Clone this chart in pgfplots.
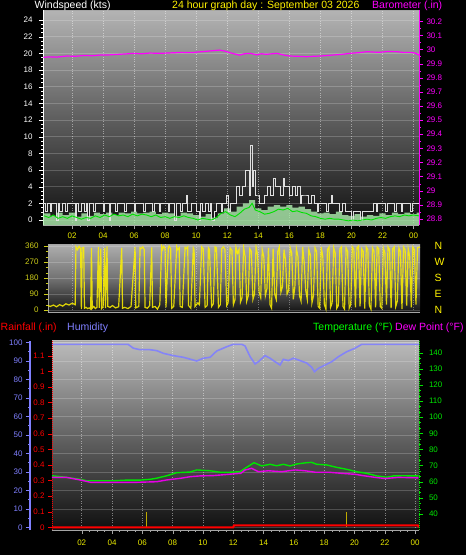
\documentclass[border=0pt]{standalone}
\usepackage{fontspec}
\setmainfont{Liberation Sans}
\usepackage{pgfplots}
\pgfplotsset{compat=1.18}
\definecolor{tyel}{RGB}{235,235,0}
\definecolor{dirlab}{RGB}{205,205,25}
\definecolor{hum}{RGB}{128,128,255}
\definecolor{tgreen}{RGB}{0,230,0}
\definecolor{dmag}{RGB}{230,0,230}
\definecolor{bmag}{RGB}{255,0,255}
\definecolor{rbar}{RGB}{190,170,0}
\definecolor{lgreen}{RGB}{175,240,175}
\definecolor{wgreen}{RGB}{0,225,0}
\definecolor{axgray}{RGB}{165,165,165}
\definecolor{gA}{RGB}{180,180,180}
\definecolor{gB}{RGB}{95,95,95}
\definecolor{gC}{RGB}{18,18,18}
\definecolor{dA}{RGB}{175,175,175}
\definecolor{dB}{RGB}{115,115,115}
\definecolor{dC}{RGB}{20,20,20}
\definecolor{hA}{RGB}{188,188,188}
\definecolor{hB}{RGB}{100,100,100}
\definecolor{hC}{RGB}{15,15,15}
\newcommand{\tk}{\fontsize{8}{9}\selectfont}
\newcommand{\ttl}{\fontsize{10.5}{12}\selectfont}
\pgfplotsset{
  every axis/.append style={/pgf/number format/assume math mode=true, scale only axis, anchor=south west,
    tick align=outside, major tick length=4pt, minor tick length=2pt, ticklabel style={font=\tk}},
}
\begin{document}
\begin{tikzpicture}
\fill[black] (0,0) rectangle (466pt,-555pt);
\shade[top color=gA, bottom color=gC, middle color=gB] (43pt,-10pt) rectangle (419pt,-225pt);
\shade[top color=dA, bottom color=dC, middle color=dB] (48pt,-244pt) rectangle (420pt,-312pt);
\shade[top color=hA, bottom color=hC, middle color=hB] (52pt,-340.7pt) rectangle (419pt,-530pt);
\draw[axgray] (43pt,-10pt) -- (419pt,-10pt);
\draw[axgray] (48pt,-244pt) -- (420pt,-244pt);
\draw[axgray] (52pt,-340.7pt) -- (419pt,-340.7pt);

% ---------- Panel 1: wind ----------
\begin{axis}[at={(43pt,-225pt)}, width=376pt, height=215pt,
  xmin=0.13, xmax=24.35, ymin=-0.6, ymax=25.2,
  axis x line*=bottom, axis y line*=left,
  x axis line style={-, axgray}, y axis line style={-, white},
  xtick={2,4,...,24}, xticklabels={02,04,06,08,10,12,14,16,18,20,22,00},
  minor x tick num=3,
  ytick={0,2,...,24}, minor y tick num=3,
  xticklabel style={text=tyel},
  yticklabel style={text=white, xshift=-3pt},
  xtick style={axgray}, ytick style={white},
  xmajorgrids, ymajorgrids,
  x grid style={white, opacity=0.45, dotted},
  y grid style={white, opacity=0.2},
]
\addplot[const plot, fill=lgreen, fill opacity=0.8, draw=none] coordinates {
(0.13,-0.6) (0.13,0.8) (0.6,0.5) (1.0,0.9) (1.4,0.6) (1.8,0.9) (2.2,0.4) (2.6,0.8) (3.0,0.5) (3.4,0.9) (3.8,0.7)
(4.2,0.9) (4.6,0.6) (5.0,0.9) (5.4,0.8) (5.8,1.0) (6.2,0.8) (6.6,0.9) (7.0,1.0) (7.4,0.7) (7.8,0.9)
(8.2,0.8) (8.6,0.5) (9.0,0.9) (9.4,0.8) (9.8,0.6) (10.2,0.4) (10.6,0.7) (11.0,0.3) (11.4,0.8) (11.8,1.4)
(12.2,1.0) (12.6,1.6) (13.0,2.0) (13.4,2.4) (13.8,1.4) (14.2,1.2) (14.6,1.6) (15.0,1.8) (15.4,1.6) (15.8,1.8)
(16.2,1.5) (16.6,1.6) (17.0,1.3) (17.4,1.0) (17.8,0.8) (18.2,0.9) (18.6,0.7) (19.0,1.0) (19.4,0.6) (19.8,0.5)
(20.2,0.7) (20.6,0.4) (21.0,0.6) (21.4,0.5) (21.8,0.8) (22.2,0.6) (22.6,0.9) (23.0,0.7) (23.4,0.9) (23.8,0.7)
(24.2,0.9) (24.35,0.9) (24.35,-0.6)};
\addplot[const plot, white!88!black, line width=0.9pt] coordinates {
(0.13,2) (0.3,1) (0.4,2) (0.6,1) (0.7,2) (0.8,2) (1.0,0) (1.1,2) (1.2,1) (1.4,2) (1.6,1) (1.7,2) (1.8,2) (2.0,2)
(2.2,0) (2.3,2) (2.4,1) (2.6,2) (2.8,1) (2.9,2)
(3.0,0) (3.1,2) (3.2,2) (3.4,1) (3.5,2) (3.6,2) (3.8,2) (4.0,1) (4.1,2) (4.2,2) (4.4,0) (4.5,2) (4.6,2) (4.8,1)
(4.9,2) (5.0,2) (5.2,2) (5.4,1) (5.5,2) (5.6,2) (5.8,2) (6.0,1) (6.1,2) (6.2,2) (6.4,2) (6.6,1) (6.7,2) (6.8,2)
(7.0,2) (7.2,1) (7.3,2) (7.4,2) (7.6,1) (7.7,2) (7.8,2) (8.0,2) (8.2,1) (8.3,2) (8.4,2)
(8.6,0) (8.7,2) (8.8,2) (9.0,1) (9.1,2) (9.2,2) (9.35,3) (9.45,1) (9.6,1) (9.7,2) (9.8,2) (10.0,1) (10.2,0)
(10.3,2) (10.4,1) (10.6,2) (10.8,1) (10.9,2)
(11.0,0) (11.2,1) (11.3,2) (11.4,2) (11.6,1) (11.7,2) (11.8,2) (11.95,3) (12.1,1) (12.2,2) (12.4,2) (12.6,4)
(12.8,3) (13.0,4) (13.2,6)
(13.4,3) (13.5,9) (13.6,4) (13.7,6) (13.8,3) (14.0,3) (14.1,2) (14.2,2) (14.4,3) (14.6,4) (14.8,3) (15.0,5) (15.1,4)
(15.4,3) (15.6,5) (15.7,4) (16.0,3) (16.2,4) (16.4,3) (16.55,4) (16.7,2) (16.8,3) (17.0,3) (17.2,2) (17.4,3) (17.6,2)
(17.8,1) (17.9,2) (18.0,2) (18.2,2) (18.4,1) (18.5,2) (18.6,2) (18.7,3) (18.8,2) (19.0,2) (19.2,1) (19.4,2)
(19.6,1) (19.8,1)
(20.0,0) (20.1,1) (20.2,1) (20.4,1) (20.6,0) (20.7,1) (20.8,1) (21.0,1) (21.2,1) (21.4,2) (21.6,1) (21.7,2)
(21.8,2) (22.0,2) (22.2,1) (22.3,2)
(22.4,2) (22.6,2) (22.8,1) (22.9,2) (23.0,2) (23.2,1) (23.3,2) (23.4,2) (23.6,2) (23.8,1) (23.9,2) (24.0,2)
(24.2,2) (24.35,2)};
\addplot[wgreen, line width=0.9pt] coordinates {
(0.2,0.5) (0.5,0.3) (0.8,0.6) (1.1,0.2) (1.4,0.4) (1.7,0.2) (2.0,0.5) (2.3,0.3) (2.6,0.1) (2.9,0.3) (3.2,0.2)
(3.5,0.5) (3.8,0.3) (4.1,0.6) (4.4,0.4) (4.7,0.7) (5.0,0.5) (5.3,0.6) (5.6,0.4) (5.9,0.7) (6.2,0.5) (6.5,0.7)
(6.8,0.6) (7.1,0.4) (7.4,0.6) (7.7,0.3) (8.0,0.4) (8.3,0.2) (8.6,0.4) (8.9,0.3) (9.2,0.5) (9.5,0.3) (9.8,0.2)
(10.1,0.0) (10.4,0.2) (10.7,0.1) (11.0,0.0) (11.3,0.3) (11.6,0.8) (11.9,1.0) (12.2,0.6) (12.5,0.4) (12.8,0.8)
(13.1,1.3) (13.4,1.5) (13.6,2.0) (13.8,1.2) (14.1,1.0) (14.4,0.7) (14.7,0.8) (15.0,1.0) (15.3,1.3) (15.6,1.2)
(15.9,1.4) (16.2,1.0) (16.5,1.1) (16.8,0.9) (17.1,0.8) (17.4,0.5) (17.7,0.4) (18.0,0.2) (18.3,0.1) (18.6,0.2)
(18.9,0.1) (19.2,0.1) (19.5,0.0) (19.8,-0.1) (20.1,0.0) (20.4,-0.1) (20.7,0.0) (21.0,0.1) (21.3,0.0) (21.6,0.2)
(21.9,0.3) (22.2,0.2) (22.5,0.4) (22.8,0.5) (23.1,0.4) (23.4,0.6) (23.7,0.5) (24.0,0.6) (24.35,0.5)};
\end{axis}
\begin{axis}[at={(43pt,-225pt)}, width=376pt, height=215pt,
  xmin=0.13, xmax=24.35, ymin=28.757, ymax=30.28,
  axis x line=none, axis y line*=right, y axis line style={-, bmag},
  ytick={28.8,28.9,29,29.1,29.2,29.3,29.4,29.5,29.6,29.7,29.8,29.9,30,30.1,30.2},
  minor y tick num=1, yticklabel style={text=bmag}, ytick style={bmag},
]
\addplot[bmag, line width=1.2pt] coordinates {
(0.15,29.945) (0.6,29.948) (1.0,29.946) (1.65,29.954) (2.2,29.952) (2.8,29.958) (3.3,29.956) (3.8,29.961)
(4.4,29.962) (5.0,29.966) (5.5,29.969) (5.93,29.973) (6.5,29.97) (7.0,29.975) (7.67,29.973) (8.3,29.976)
(9.1,29.98) (9.7,29.978) (10.4,29.985) (10.9,29.99) (11.5,29.996) (11.8,29.99) (12.2,29.977) (12.5,29.968)
(12.8,29.96) (13.1,29.97) (13.5,29.973) (13.9,29.962) (14.2,29.97) (14.5,29.966) (15.2,29.973) (15.6,29.962)
(16.0,29.954) (16.6,29.952) (17.1,29.949) (17.5,29.952) (18.0,29.954) (18.8,29.961) (19.4,29.966) (19.9,29.973)
(20.5,29.978) (21.0,29.985) (21.4,29.982) (21.8,29.98) (22.3,29.986) (22.9,29.985) (23.3,29.98) (23.8,29.98)
(24.1,29.975) (24.35,29.961)};
\end{axis}

% ---------- Panel 2: wind direction ----------
\begin{axis}[at={(48pt,-312pt)}, width=372pt, height=68pt,
  xmin=0.45, xmax=24.41, ymin=-11.25, ymax=371.25,
  axis x line*=bottom, axis y line*=left,
  x axis line style={-, axgray}, y axis line style={-, axgray},
  xtick={2,4,...,24}, xticklabels={}, xtick style={draw=none},
  ytick={0,90,180,270,360}, minor y tick num=2,
  yticklabel style={text=dirlab, xshift=-2pt}, ytick style={dirlab},
  xmajorgrids, ymajorgrids,
  x grid style={white, opacity=0.35, dotted},
  y grid style={white, opacity=0.2},
]
\addplot[yellow, line width=1.2pt, opacity=0.85] coordinates {
(0.45,25) (0.6,20) (0.8,28) (1.0,18) (1.2,30) (1.4,22) (1.6,35) (1.8,28) (2.0,38) (2.2,30)
(2.25,355) (2.35,340) (2.45,358) (2.55,345) (2.6,5) (2.65,350) (2.75,352) (2.8,10) (2.9,15) (3.0,8) (3.1,12)
(3.2,5) (3.25,350) (3.3,10) (3.4,20) (3.5,8) (3.6,15) (3.7,355) (3.75,12) (3.85,345) (3.9,8) (4.0,18) (4.1,350)
(4.15,10) (4.25,358) (4.3,20) (4.45,15) (4.6,25) (4.8,12) (5.0,18) (5.2,350) (5.25,10) (5.4,15) (5.6,8) (5.8,20)
(6.06,355) (6.1,12) (6.3,20) (6.38,350) (6.45,345) (6.55,355) (6.65,340) (6.7,15) (6.85,10) (7.0,25) (7.13,352)
(7.18,15) (7.35,20) (7.5,5) (7.65,30) (7.77,355) (7.82,340) (7.9,358) (7.99,345) (8.05,15) (8.2,350) (8.25,360)
(8.35,345) (8.42,10) (8.55,20) (8.74,355) (8.8,340) (8.9,350) (8.96,20) (9.1,15) (9.28,352) (9.35,345) (9.45,355)
(9.5,25) (9.65,10) (9.81,350) (9.86,340) (9.92,20) (10.1,40) (10.2,30) (10.35,355) (10.45,345) (10.57,15)
(10.7,25) (10.78,350) (10.85,340) (10.99,20) (11.1,35) (11.21,355) (11.3,350) (11.43,15) (11.55,30) (11.64,345)
(11.75,355) (11.85,340) (11.96,25) (12.05,40) (12.18,350) (12.3,335) (12.39,30) (12.5,60)
(12.55,355) (12.65,320) (12.75,340) (12.85,45) (12.95,70) (13.05,350) (13.15,300) (13.25,50) (13.35,80)
(13.45,345) (13.55,330) (13.65,60) (13.75,90) (13.85,355) (13.95,310) (14.05,100) (14.15,70) (14.25,340)
(14.35,300) (14.45,80) (14.55,120) (14.65,350) (14.75,30) (14.85,10) (14.95,345) (15.05,90) (15.15,60)
(15.25,330) (15.35,355) (15.45,100) (15.55,130) (15.65,340) (15.75,280) (15.85,90) (15.95,110) (16.05,350)
(16.15,320) (16.25,60) (16.35,130) (16.45,345) (16.55,300) (16.65,80) (16.75,50) (16.85,355) (16.95,270)
(17.05,110) (17.15,60) (17.25,340) (17.35,310) (17.45,40) (17.55,80) (17.65,350) (17.75,330) (17.85,20)
(17.95,10) (18.05,355) (18.15,300) (18.25,30) (18.35,5) (18.45,340) (18.55,355) (18.65,15) (18.75,40)
(18.85,350) (18.95,320) (19.05,10) (19.15,25) (19.25,345) (19.35,355) (19.45,20) (19.55,5) (19.65,350)
(19.75,330) (19.85,10) (19.95,30) (20.05,355) (20.15,340) (20.25,15) (20.35,350) (20.45,360) (20.55,20)
(20.65,345) (20.75,330) (20.85,8) (20.95,355) (21.05,340) (21.15,25) (21.25,5) (21.35,350) (21.45,330)
(21.55,15) (21.65,355) (21.75,345) (21.85,20) (21.95,10) (22.05,350) (22.15,320) (22.25,30) (22.35,355)
(22.45,340) (22.55,10) (22.65,345) (22.75,355) (22.85,20) (22.95,50) (23.05,350) (23.15,330) (23.25,5)
(23.35,355) (23.45,340) (23.55,25) (23.65,345) (23.75,300) (23.85,15) (23.95,355) (24.05,340) (24.15,30)
(24.25,350) (24.41,355)};
\end{axis}
\begin{axis}[at={(48pt,-312pt)}, width=372pt, height=68pt,
  xmin=0.45, xmax=24.41, ymin=-11.25, ymax=371.25,
  axis x line=none, axis y line*=right, y axis line style={draw=none},
  ytick={0,90,180,270,360}, yticklabels={N,E,S,W,N}, major tick length=0pt, ytick style={draw=none},
  yticklabel style={text=yellow, font=\ttl, xshift=11pt},
]
\addplot[draw=none] coordinates {(1,0)};
\end{axis}

% ---------- Panel 3 ----------
\begin{axis}[at={(52pt,-530pt)}, width=367pt, height=189.3pt,
  xmin=0.04, xmax=24.26, ymin=-1.46, ymax=100.86,
  axis x line*=bottom, axis y line*=left, axis y line shift=22pt,
  x axis line style={-, axgray}, y axis line style={-, hum, line width=1.2pt},
  xtick={2,4,...,24}, xticklabels={02,04,06,08,10,12,14,16,18,20,22,00},
  minor x tick num=3,
  xticklabel style={text=tyel, yshift=-2.5pt}, xtick style={axgray},
  ytick={0,10,...,100}, minor y tick num=1,
  yticklabel style={text=hum}, ytick style={hum},
  xmajorgrids, ymajorgrids,
  x grid style={white, opacity=0.45, dotted},
  y grid style={white, opacity=0.2},
]
\addplot[hum, line width=1.6pt, opacity=0.9] coordinates {
(0.04,98.9) (5.06,98.9) (5.41,96.8) (5.85,96) (6.5,96) (6.95,95.5) (7.4,94) (8.05,92.8) (8.7,91.9) (9.37,90.4)
(9.59,89.9) (10.03,91.4) (10.47,91.9) (10.91,95.3) (11.57,97.6) (12.0,98.9) (12.56,98.9) (12.78,98) (13.11,92.3)
(13.44,88.3) (13.66,89.5) (14.1,92.8) (14.43,91.4) (14.76,89.5) (15.09,87.7) (15.31,90.8) (15.64,90.1)
(15.97,91.4) (16.41,90.1) (16.85,88.8) (17.18,86.5) (17.36,84.1) (17.62,85.9) (18.06,87.7) (18.5,89.5)
(18.94,92.2) (19.49,94.9) (20.04,96.8) (20.48,98.9) (24.26,98.9)};
\end{axis}
\begin{axis}[at={(52pt,-530pt)}, width=367pt, height=189.3pt,
  xmin=0.04, xmax=24.26, ymin=-0.0173, ymax=1.196,
  axis x line=none, axis y line*=left, y axis line style={-, red, densely dotted, line width=1pt},
  ytick={0,0.1,0.2,0.3,0.4,0.5,0.6,0.7,0.8,0.9,1,1.1,1.2},
  yticklabel style={text=red}, ytick style={red},
]
\addplot[ycomb, rbar, line width=1.5pt] coordinates {(6.29,0.1) (19.49,0.1)};
\addplot[red, line width=2pt] coordinates {(0.04,0) (12.0,0) (12.05,0.013) (24.18,0.013) (24.25,0)};
\end{axis}
\begin{axis}[at={(52pt,-530pt)}, width=367pt, height=189.3pt,
  xmin=0.04, xmax=24.26, ymin=30.08, ymax=147.4,
  axis x line=none, axis y line*=right, y axis line style={-, tgreen, densely dotted, line width=1pt},
  ytick={40,50,...,140}, minor y tick num=2,
  yticklabel style={text=tgreen, xshift=2.5pt}, ytick style={tgreen},
]
\addplot[tgreen, line width=1.4pt] coordinates {
(0.04,63.7) (1.0,62.7) (1.89,61.5) (2.33,60.6) (4.09,60.6) (4.97,61.0) (5.85,61.0) (6.51,61.5) (6.95,62.2)
(7.61,63.7) (8.27,65.6) (9.15,66.0) (9.59,67.3) (10.47,66.8) (11.13,65.9) (11.79,65.9) (12.45,66.2) (12.78,68.3)
(13.37,71.8) (13.88,69.8) (14.43,70.8) (14.87,69.9) (15.31,70.8) (15.75,69.8) (16.19,71.0) (16.85,71.8)
(17.18,72.0) (17.51,70.8) (18.17,70.4) (18.83,68.9) (19.49,67.7) (20.15,66.2) (20.81,65.2) (21.47,63.6)
(22.13,62.8) (22.57,63.6) (23.23,63.7) (24.22,63.6)};
\addplot[dmag, line width=1.4pt] coordinates {
(0.04,62.7) (1.0,62.7) (1.89,61.1) (2.6,59.6) (4.0,59.6) (5.5,59.6) (6.95,60.0) (7.61,61.1) (8.5,62.1)
(9.15,63.1) (9.8,63.6) (10.69,63.8) (12.45,65.2) (12.5,65.2) (12.78,67.3) (13.22,68.3) (13.66,66.2)
(14.32,66.8) (15.2,66.2) (16.08,67.3) (16.74,66.8) (17.4,65.9) (18.28,65.9) (19.16,65.2) (20.04,64.6)
(20.7,63.6) (21.36,62.7) (22.02,62.0) (22.9,62.7) (24.22,62.4)};
\end{axis}

% ---------- headers ----------
\node[anchor=base west, inner sep=0, white, font=\ttl] at (34.5pt,-8.5pt) {Windspeed (kts)};
\node[anchor=base west, inner sep=0, yellow, font=\ttl] at (172pt,-8.5pt) {24 hour graph day : September 03 2026};
\node[anchor=base west, inner sep=0, bmag, font=\ttl] at (372pt,-8.5pt) {Barometer (.in)};
\node[anchor=base west, inner sep=0, red, font=\ttl] at (0.5pt,-330pt) {Rainfall (.in)};
\node[anchor=base west, inner sep=0, hum, font=\ttl] at (67pt,-330pt) {Humidity};
\node[anchor=base west, inner sep=0, green, font=\ttl] at (313pt,-330pt) {Temperature (°F)};
\node[anchor=base west, inner sep=0, bmag, font=\ttl] at (395pt,-330pt) {Dew Point (°F)};

\pgfresetboundingbox
\path[use as bounding box] (0,0) rectangle (466pt,-555pt);
\end{tikzpicture}
\end{document}
